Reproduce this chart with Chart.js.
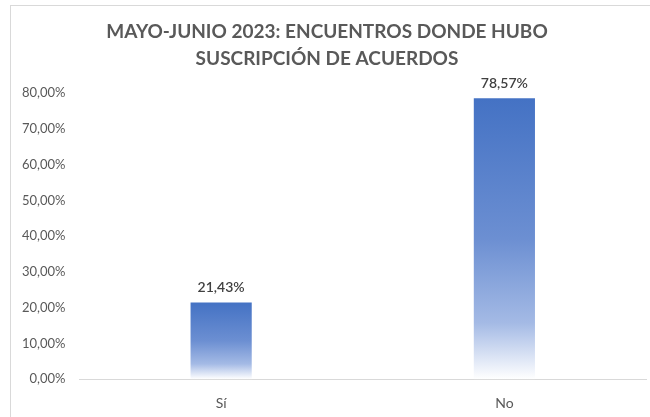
<!DOCTYPE html>
<html>
<head>
<meta charset="utf-8">
<script src="https://cdn.jsdelivr.net/npm/chart.js@4"></script>
<style>
  html, body { margin: 0; padding: 0; background: #fff; overflow: hidden; }
  #wrap { position: relative; width: 650px; height: 417px; overflow: hidden; }
  #frame { position: absolute; left: 10px; top: 5px; width: 700px; height: 450px; border: 1px solid #d9d9d9; box-sizing: border-box; pointer-events: none; }
  canvas { position: absolute; left: 0; top: 0; }
</style>
</head>
<body>
<div id="wrap">
  <canvas id="chart" width="650" height="433"></canvas>
  <div id="frame"></div>
</div>
<script>
// Chart data
const categories = ['Sí', 'No'];
const percentages = [21.43, 78.57];
const yTicks = [0, 10, 20, 30, 40, 50, 60, 70, 80];
const titleLines = ['MAYO-JUNIO 2023: ENCUENTROS DONDE HUBO', 'SUSCRIPCIÓN DE ACUERDOS'];

const textColor = '#595959';
const fontFamily = "Lato, 'Open Sans', sans-serif";

// Format number as "21,43%"
function pct(v) {
    return v.toFixed(2).replace('.', ',') + '%';
}

// Each bar gets its own vertical gradient, blue at top fading to white
function barGradient(context) {
    const chart = context.chart;
    const yScale = chart.scales.y;
    if (!yScale || context.raw === undefined) return '#4472C4';
    const top = yScale.getPixelForValue(context.raw);
    const bottom = yScale.getPixelForValue(0);
    if (!isFinite(top) || !isFinite(bottom) || top === bottom) return '#4472C4';
    const g = chart.ctx.createLinearGradient(0, top, 0, bottom);
    g.addColorStop(0, '#4472C4');
    g.addColorStop(0.5, '#6c8fd2');
    g.addColorStop(0.8, '#a4bae5');
    g.addColorStop(1, '#ffffff');
    return g;
}

// Value labels above each bar
const valueLabels = {
    id: 'valueLabels',
    afterDatasetsDraw(chart) {
        const ctx = chart.ctx;
        const meta = chart.getDatasetMeta(0);
        ctx.save();
        ctx.font = '600 14px ' + fontFamily;
        ctx.fillStyle = '#404040';
        ctx.textAlign = 'center';
        ctx.textBaseline = 'bottom';
        meta.data.forEach((bar, i) => {
            ctx.fillText(pct(percentages[i]), bar.x, bar.y - 8);
        });
        ctx.restore();
    }
};

new Chart(document.getElementById('chart'), {
    type: 'bar',
    data: {
        labels: categories,
        datasets: [{
            data: percentages,
            backgroundColor: barGradient,
            borderWidth: 0,
            categoryPercentage: 1,
            barPercentage: 0.216
        }]
    },
    options: {
        responsive: false,
        animation: false,
        layout: {
            padding: { left: 8, right: 4, top: 14, bottom: 5 }
        },
        plugins: {
            legend: { display: false },
            tooltip: { enabled: false },
            title: {
                display: true,
                text: titleLines,
                color: textColor,
                font: { family: fontFamily, size: 19, weight: 'bold', lineHeight: 1.4 },
                padding: { top: 5, bottom: 21 }
            }
        },
        scales: {
            x: {
                grid: { display: false, drawTicks: false },
                border: { display: true, color: '#d9d9d9', width: 1 },
                ticks: {
                    color: textColor,
                    font: { family: fontFamily, size: 14 },
                    padding: 16
                }
            },
            y: {
                min: 0,
                max: 80,
                afterBuildTicks(scale) {
                    scale.ticks = yTicks.map(v => ({ value: v }));
                },
                grid: { display: false, drawTicks: false },
                border: { display: false },
                ticks: {
                    color: textColor,
                    font: { family: fontFamily, size: 13 },
                    padding: 14,
                    callback: v => pct(v)
                }
            }
        }
    },
    plugins: [valueLabels]
});
</script>
</body>
</html>
